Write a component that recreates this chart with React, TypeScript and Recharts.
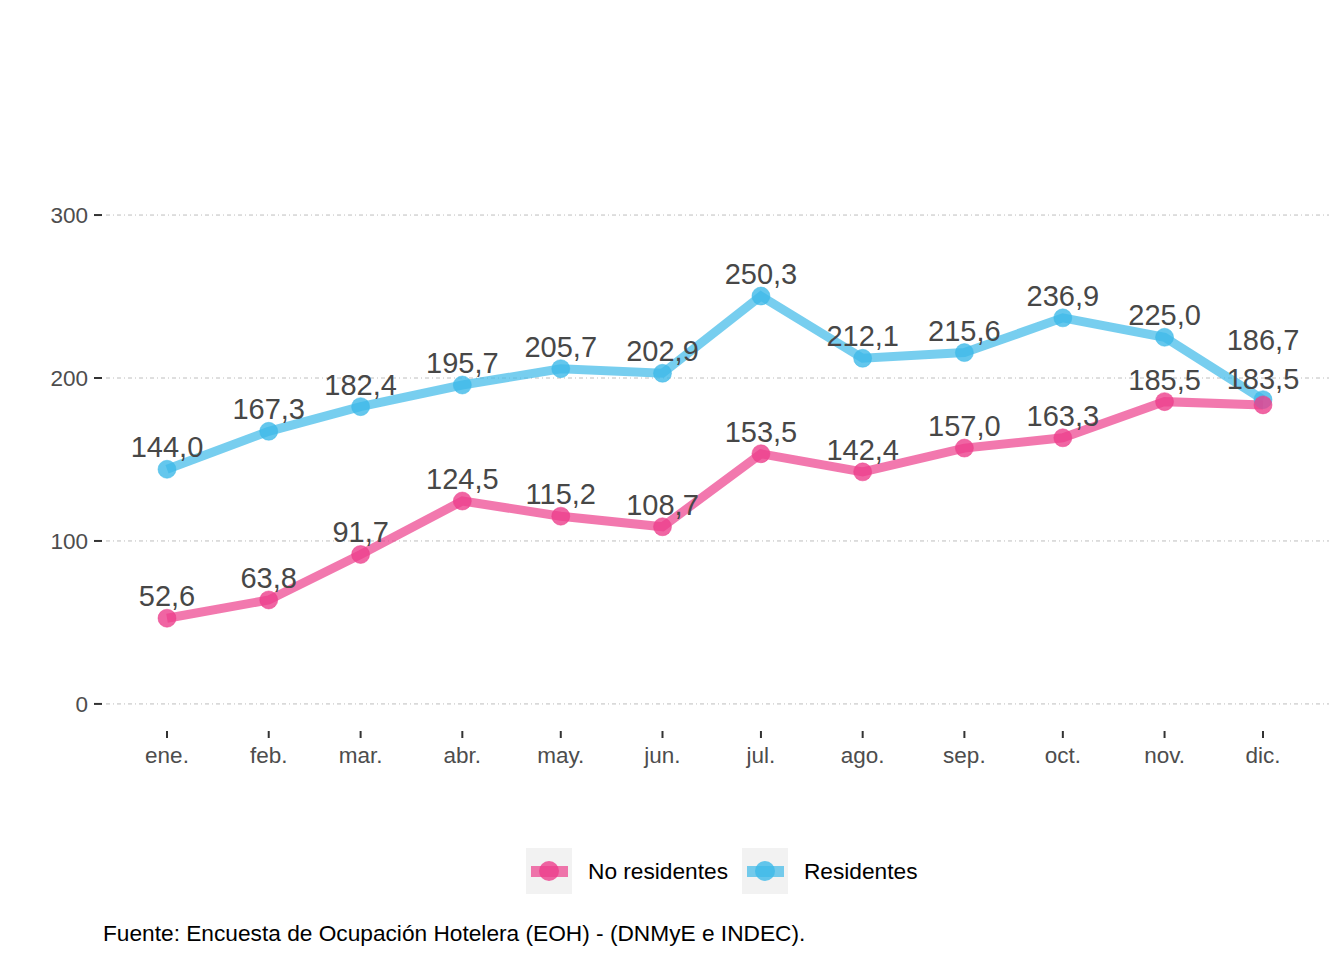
import { LineChart, Line, XAxis, YAxis, CartesianGrid, LabelList } from 'recharts';

const months = ['ene.', 'feb.', 'mar.', 'abr.', 'may.', 'jun.', 'jul.', 'ago.', 'sep.', 'oct.', 'nov.', 'dic.'];
const fechas = ['2023-01-01', '2023-02-01', '2023-03-01', '2023-04-01', '2023-05-01', '2023-06-01',
  '2023-07-01', '2023-08-01', '2023-09-01', '2023-10-01', '2023-11-01', '2023-12-01'];
const noResidentes = [52.6, 63.8, 91.7, 124.5, 115.2, 108.7, 153.5, 142.4, 157.0, 163.3, 185.5, 183.5];
const residentes = [144.0, 167.3, 182.4, 195.7, 205.7, 202.9, 250.3, 212.1, 215.6, 236.9, 225.0, 186.7];
const yTicks = [0, 100, 200, 300];
const seriesNames = ['No residentes', 'Residentes'];
const seriesColors = ['#EC3F8C', '#3DB9E8'];
const fuente = 'Fuente: Encuesta de Ocupación Hotelera (EOH) - (DNMyE e INDEC).';

const times = fechas.map((f) => Date.parse(f + 'T00:00:00Z'));
const data = times.map((t, i) => ({ t, noRes: noResidentes[i], res: residentes[i] }));

const FONT = '"Liberation Sans", Arial, sans-serif';
const fmt = (v: number) => v.toFixed(1).replace('.', ',');
const monthLabel = (t: number) => months[times.indexOf(t)] ?? '';

// labels sit above the point; when both series nearly collide, push them apart
function makeLabel(key: 'res' | 'noRes') {
  return (props: any) => {
    const { x, y, value, index } = props;
    const close = Math.abs(residentes[index] - noResidentes[index]) < 10;
    let off = 12;
    if (close) off = key === 'res' ? 50 : 16;
    return (
      <text x={x} y={y - off} textAnchor="middle" fontSize={29} fill="#474747" fontFamily={FONT}>
        {fmt(Number(value))}
      </text>
    );
  };
}

function YTick({ x, y, payload }: any) {
  return (
    <g>
      <line x1={x - 12} x2={x - 4} y1={y} y2={y} stroke="#333" strokeWidth={2} />
      <text x={x - 18} y={y + 8} textAnchor="end" fontSize={22.5} fill="#4D4D4D" fontFamily={FONT}>
        {payload.value}
      </text>
    </g>
  );
}

function XTick({ x, y, payload }: any) {
  return (
    <g>
      <line x1={x} x2={x} y1={y + 1} y2={y + 8} stroke="#333" strokeWidth={2} />
      <text x={x} y={y + 33} textAnchor="middle" fontSize={22.5} fill="#4D4D4D" fontFamily={FONT}>
        {monthLabel(payload.value)}
      </text>
    </g>
  );
}

function LegendKey({ color }: { color: string }) {
  return (
    <svg width={46} height={46} style={{ display: 'block' }}>
      <rect x={0} y={0} width={46} height={46} fill="#F2F2F2" />
      <rect x={5} y={18} width={37} height={11} fill={color} fillOpacity={0.7} />
      <circle cx={23} cy={23} r={10} fill={color} fillOpacity={0.8} />
    </svg>
  );
}

export default function App() {
  return (
    <div style={{ position: 'absolute', left: 0, top: 0, width: 1344, height: 960, background: '#fff', fontFamily: FONT }}>
      <LineChart
        width={1344}
        height={800}
        data={data}
        margin={{ top: 158, right: 15, left: 0, bottom: 0 }}
      >
        <CartesianGrid vertical={false} stroke="#BEBEBE" strokeDasharray="4 3 1 3" syncWithTicks />
        <XAxis
          dataKey="t"
          type="number"
          domain={[times[0], times[times.length - 1]]}
          ticks={times}
          height={70}
          axisLine={false}
          tickLine={false}
          tickSize={0}
          tickMargin={0}
          padding={{ left: 61, right: 66 }}
          tick={<XTick />}
          interval={0}
        />
        <YAxis
          type="number"
          domain={[-16, 335]}
          ticks={yTicks}
          allowDataOverflow
          width={106}
          axisLine={false}
          tickLine={false}
          tickSize={0}
          tickMargin={0}
          tick={<YTick />}
        />
        <Line dataKey="res" stroke={seriesColors[1]} strokeOpacity={0.7} strokeWidth={9} dot={false} activeDot={false} isAnimationActive={false} />
        <Line dataKey="noRes" stroke={seriesColors[0]} strokeOpacity={0.7} strokeWidth={9} dot={false} activeDot={false} isAnimationActive={false} />
        <Line
          dataKey="res"
          stroke="none"
          dot={{ r: 9, fill: seriesColors[1], fillOpacity: 0.8, stroke: seriesColors[1], strokeOpacity: 0.5, strokeWidth: 1 }}
          activeDot={false}
          isAnimationActive={false}
        />
        <Line
          dataKey="noRes"
          stroke="none"
          dot={{ r: 9, fill: seriesColors[0], fillOpacity: 0.8, stroke: seriesColors[0], strokeOpacity: 0.5, strokeWidth: 1 }}
          activeDot={false}
          isAnimationActive={false}
        />
        <Line dataKey="res" stroke="none" dot={false} activeDot={false} isAnimationActive={false}>
          <LabelList dataKey="res" content={makeLabel('res')} />
        </Line>
        <Line dataKey="noRes" stroke="none" dot={false} activeDot={false} isAnimationActive={false}>
          <LabelList dataKey="noRes" content={makeLabel('noRes')} />
        </Line>
      </LineChart>

      <div style={{ position: 'absolute', left: 526, top: 848, display: 'flex', alignItems: 'center' }}>
        <LegendKey color={seriesColors[0]} />
        <span style={{ fontSize: 22.7, color: '#000', marginLeft: 16, marginRight: 14 }}>{seriesNames[0]}</span>
        <LegendKey color={seriesColors[1]} />
        <span style={{ fontSize: 22.7, color: '#000', marginLeft: 16 }}>{seriesNames[1]}</span>
      </div>

      <div style={{ position: 'absolute', left: 103, top: 920, fontSize: 22.7, color: '#000', whiteSpace: 'nowrap' }}>
        {fuente}
      </div>
    </div>
  );
}
